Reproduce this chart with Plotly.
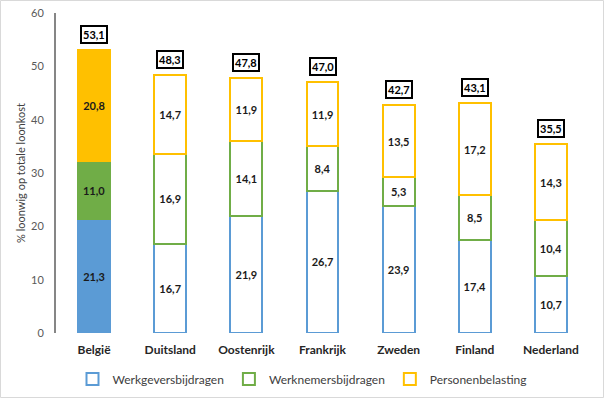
import plotly.graph_objects as go

categories = ["België", "Duitsland", "Oostenrijk", "Frankrijk", "Zweden", "Finland", "Nederland"]
werkgever = [21.3, 16.7, 21.9, 26.7, 23.9, 17.4, 10.7]
werknemer = [11.0, 16.9, 14.1, 8.4, 5.3, 8.5, 10.4]
personen = [20.8, 14.7, 11.9, 11.9, 13.5, 17.2, 14.3]
totals = [53.1, 48.3, 47.8, 47.0, 42.7, 43.1, 35.5]
series_names = ["Werkgeversbijdragen", "Werknemersbijdragen", "Personenbelasting"]
y_ticks = [0, 10, 20, 30, 40, 50, 60]

colors = ["#5B9BD5", "#70AD47", "#FFC000"]
FONT = "Lato, 'Open Sans', sans-serif"

def fmt(v):
    return f"{v:.1f}".replace(".", ",")

fig = go.Figure()
for name, vals, col in zip(series_names, [werkgever, werknemer, personen], colors):
    fills = [col if i == 0 else "white" for i in range(len(vals))]
    fig.add_trace(go.Bar(
        x=categories, y=vals, name=name, showlegend=False,
        marker=dict(color=fills, line=dict(color=col, width=2)),
        text=[fmt(v) for v in vals], textposition="inside",
        insidetextanchor="middle", textangle=0, constraintext="none",
        textfont=dict(family=FONT, size=11, color="#1a1a1a", weight="bold"),
        cliponaxis=False,
    ))
# legend-only traces (outlined squares)
for name, col in zip(series_names, colors):
    fig.add_trace(go.Bar(
        x=[categories[0]], y=[0], name=name, showlegend=True,
        marker=dict(color="white", line=dict(color=col, width=2)),
        hoverinfo="skip",
    ))

stack_tops = [a + b + c for a, b, c in zip(werkgever, werknemer, personen)]
for cat, top, tot in zip(categories, stack_tops, totals):
    fig.add_annotation(
        x=cat, y=top, text=fmt(tot), showarrow=False,
        yanchor="bottom", yshift=6,
        font=dict(family=FONT, size=11, color="#000000", weight="bold"),
        bgcolor="white", bordercolor="#000000", borderwidth=2, borderpad=1,
    )

W, H = 605, 399
L, R, T, B = 56, 16, 13, 66
pw, ph = W - L - R, H - T - B
fig.add_shape(
    type="rect", xref="paper", yref="paper",
    x0=(0.5 - L) / pw, x1=(W - 1.5 - L) / pw,
    y0=(H - T - B - (H - 1.5 - T)) / ph, y1=(ph - (0.5 - T)) / ph,
    line=dict(color="#D9D9D9", width=1), fillcolor="rgba(0,0,0,0)", layer="below",
)

fig.update_layout(
    width=W, height=H,
    margin=dict(l=L, r=R, t=T, b=B, autoexpand=False),
    barmode="stack", bargap=0.58,
    plot_bgcolor="white", paper_bgcolor="white",
    font=dict(family=FONT, color="#595959"),
    legend=dict(
        orientation="h", x=(302.5 - L) / pw, xanchor="center",
        y=(333 - 379) / ph, yanchor="middle", traceorder="normal",
        font=dict(family=FONT, size=12, color="#404040"),
        itemwidth=30, tracegroupgap=0,
    ),
    xaxis=dict(
        showline=False, showgrid=False, ticks="", tickangle=0,
        tickfont=dict(family=FONT, size=12, color="#262626", weight="bold"),
        ticklabelstandoff=8,
    ),
    yaxis=dict(
        range=[0, 60], tickvals=y_ticks, showgrid=False, zeroline=False,
        showline=True, linecolor="#868686", linewidth=2, ticks="",
        tickfont=dict(family=FONT, size=11, color="#595959"),
        ticklabelstandoff=8,
        title=dict(text="% loonwig op totale loonkost", standoff=3,
                   font=dict(family=FONT, size=11, color="#404040")),
    ),
)

fig.write_html(
    "out.html",
    config={"displayModeBar": False},
    post_script="document.body.style.margin='0';document.body.style.overflow='hidden';",
)
